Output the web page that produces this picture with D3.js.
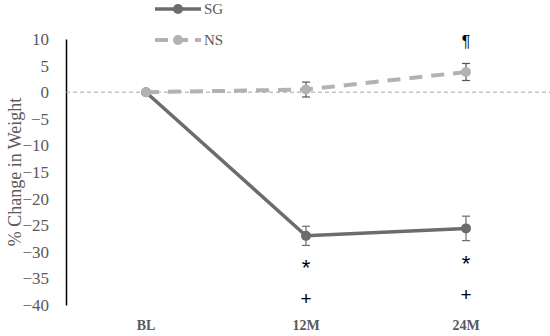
<!DOCTYPE html>
<html>
<head>
<meta charset="utf-8">
<script src="https://d3js.org/d3.v7.min.js"></script>
<style>
  body { margin: 0; background: #fff; }
  svg text { font-family: "Liberation Serif", "DejaVu Serif", serif; }
</style>
</head>
<body>
<svg id="chart" width="550" height="336"></svg>
<script>
const categories = ["BL", "12M", "24M"];
const sgValues = [0, -27.0, -25.6];
const sgErrors = [0, 1.8, 2.3];
const nsValues = [0, 0.5, 3.8];
const nsErrors = [0, 1.4, 1.6];
const yTicks = [10, 5, 0, -5, -10, -15, -20, -25, -30, -35, -40];
// significance symbols and the value level they sit at
const starMarks = ["", "*", "*"];
const starLevels = [0, -32.5, -31.7];
const plusMarks = ["", "+", "+"];
const plusLevels = [0, -38.6, -37.9];
const nsMarks = ["", "", "¶"];
const nsMarkLevels = [0, 0, 9.7];

const sgColor = "#6f6b6b";
const nsColor = "#b3b1b1";
const textColor = "#595959";

const svg = d3.select("#chart");

const x = d3.scalePoint().domain(categories).range([146, 466]);
const y = d3.scaleLinear().domain([-40, 10]).range([305, 39]);

// y axis
const yAxis = d3.axisLeft(y).tickValues(yTicks).tickSize(0).tickPadding(17);
const gy = svg.append("g").attr("transform", "translate(66,0)").call(yAxis);
gy.attr("font-family", null);
gy.select(".domain").attr("stroke", "#000").attr("stroke-width", 1.5);
gy.selectAll("text").style("font-size", "17px").style("fill", textColor);

// x labels
svg.append("g").selectAll("text")
  .data(categories).join("text")
  .attr("x", d => x(d)).attr("y", 330)
  .attr("text-anchor", "middle")
  .style("font-size", "14px").style("font-weight", "bold").style("fill", textColor)
  .text(d => d);

// zero line
svg.append("line")
  .attr("x1", 66).attr("x2", 550)
  .attr("y1", y(0)).attr("y2", y(0))
  .attr("stroke", "#a6a6a6").attr("stroke-width", 1)
  .attr("stroke-dasharray", "4,3");

// y title
svg.append("text")
  .attr("transform", `translate(21,${y(-15)}) rotate(-90)`)
  .attr("text-anchor", "middle")
  .style("font-size", "18px").style("fill", textColor)
  .text("% Change in Weight");

const line = d3.line().x((d, i) => x(categories[i])).y(d => y(d));

function drawSeries(vals, errs, color, dash, capColor) {
  svg.append("path")
    .datum(vals)
    .attr("d", line)
    .attr("fill", "none")
    .attr("stroke", color)
    .attr("stroke-width", dash ? 4 : 3.5)
    .attr("stroke-dasharray", dash ? "13,9" : null);

  const eb = svg.append("g");
  vals.forEach((v, i) => {
    if (!errs[i]) return;
    const cx = x(categories[i]);
    eb.append("line").attr("x1", cx).attr("x2", cx)
      .attr("y1", y(v + errs[i])).attr("y2", y(v - errs[i]))
      .attr("stroke", capColor).attr("stroke-width", 1.2);
    [v + errs[i], v - errs[i]].forEach(e => {
      eb.append("line").attr("x1", cx - 4).attr("x2", cx + 4)
        .attr("y1", y(e)).attr("y2", y(e))
        .attr("stroke", capColor).attr("stroke-width", 1.2);
    });
  });

  svg.append("g").selectAll("circle")
    .data(vals).join("circle")
    .attr("cx", (d, i) => x(categories[i]))
    .attr("cy", d => y(d))
    .attr("r", 5)
    .attr("fill", color);
}

drawSeries(sgValues, sgErrors, sgColor, false, sgColor);
drawSeries(nsValues, nsErrors, nsColor, true, "#555");

// significance marks
function drawMarks(marks, levels, size, dy) {
  svg.append("g").selectAll("text")
    .data(marks).join("text")
    .attr("x", (d, i) => x(categories[i]))
    .attr("y", (d, i) => y(levels[i]) + dy)
    .attr("text-anchor", "middle")
    .style("font-size", size).style("font-family", "Liberation Sans, sans-serif")
    .style("fill", "#000")
    .text(d => d);
}
drawMarks(starMarks, starLevels, "22px", 10);
drawMarks(plusMarks, plusLevels, "19px", 7);
drawMarks(nsMarks, nsMarkLevels, "16px", 6);

// legend
const legend = [
  { name: "SG", color: sgColor, dash: null, y: 9 },
  { name: "NS", color: nsColor, dash: "13,7", y: 40 }
];
const lg = svg.append("g");
legend.forEach(l => {
  lg.append("line").attr("x1", 155).attr("x2", 201)
    .attr("y1", l.y).attr("y2", l.y)
    .attr("stroke", l.color).attr("stroke-width", l.dash ? 4 : 3.5)
    .attr("stroke-dasharray", l.dash);
  lg.append("circle").attr("cx", 178).attr("cy", l.y).attr("r", 5).attr("fill", l.color);
  lg.append("text").attr("x", 204).attr("y", l.y + 5)
    .style("font-size", "15px").style("fill", textColor).text(l.name);
});
</script>
</body>
</html>
